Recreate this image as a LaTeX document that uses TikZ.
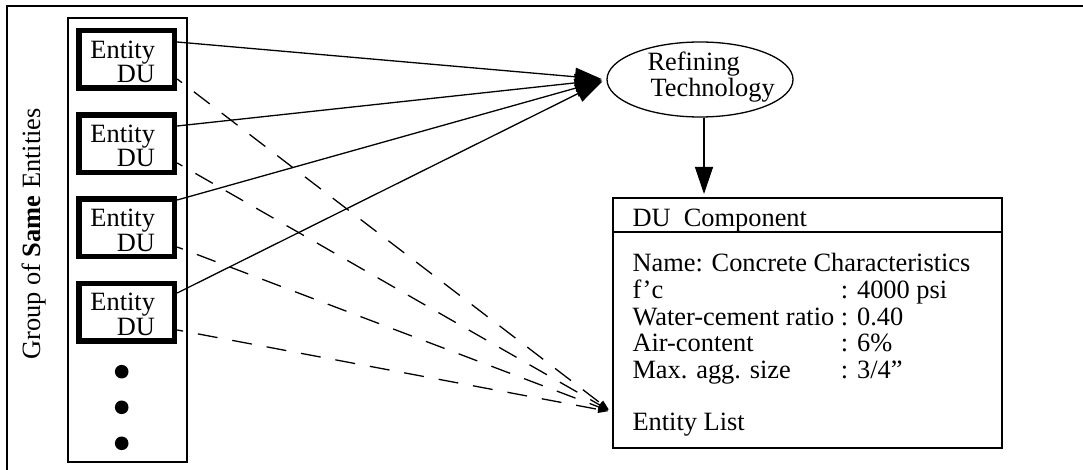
\documentclass[tikz,border=0pt]{standalone}
\usepackage{fontspec}
\setmainfont{Liberation Serif}
\usetikzlibrary{arrows.meta,shapes.geometric}

\begin{document}
\begin{tikzpicture}[x=0.5pt,y=-0.5pt,
  txt/.style={font=\fontsize{13.2}{13.25}\selectfont, inner sep=0pt, outer sep=0pt},
  entxt/.style={font=\fontsize{13.2}{11.7}\selectfont, inner sep=0pt, outer sep=0pt},
  reftxt/.style={font=\fontsize{13.2}{12.2}\selectfont, inner sep=0pt, outer sep=0pt},
  frameline/.style={line width=1pt},
  groupbox/.style={draw, line width=0.65pt, minimum width=59.5pt, minimum height=222pt, inner sep=0pt},
  entbox/.style={draw, line width=2.75pt, minimum width=47.75pt, minimum height=28.75pt, inner sep=0pt},
  dotmark/.style={circle, fill, inner sep=0pt, minimum size=6.8pt},
  techbox/.style={ellipse, draw, line width=0.65pt, minimum width=93pt, minimum height=37.5pt, inner sep=0pt},
  compbox/.style={draw, line width=1pt, minimum width=194.5pt, minimum height=125pt, inner sep=0pt},
  solidarrow/.style={line width=0.65pt, -{Triangle[length=13.5pt,width=9pt]}},
  dasharrow/.style={line width=0.65pt, dash pattern=on 10pt off 7.5pt, dash phase=7pt,
    -{Triangle[length=5pt,width=3.5pt]}, shorten >=2pt},
]
\useasboundingbox (0,0) rectangle (1083,470);

% outer frame (top and left edges)
\draw[frameline] (7,470) -- (7,6) -- (1083,6);

% group of entities
\node[groupbox] (grp) at (127.5,240) {};
\node[txt, rotate=90, anchor=base] (grplabel) at (40,234) {Group of \textbf{Same} Entities};

\foreach \i/\y in {1/59.5,2/143.7,3/227.9,4/312.1}{
  \node[entbox] (b\i) at (126.7,\y) {};
  \node[entxt, anchor=base east] (t\i) at ([xshift=14.15pt,yshift=0.6pt]b\i.center)
    {\begin{tabular}[t]{@{}r@{}}Entity\\DU\end{tabular}};
}

\node[dotmark] (dot1) at (121.7,371.7) {};
\node[dotmark] (dot2) at (121.7,407.3) {};
\node[dotmark] (dot3) at (121.7,443.3) {};

% refining technology
\node[techbox] (ref) at (700,79.5) {};
\node[reftxt, anchor=base west] (reflabel) at (647.5,70.7)
  {\begin{tabular}[t]{@{}l@{}}Refining\\\hspace{1.5pt}Technology\end{tabular}};

% DU component
\node[compbox] (du) at (807.5,323) {};
\draw[frameline] ([yshift=-17.5pt]du.north west) -- ([yshift=-17.5pt]du.north east);
\node[txt, anchor=base west] (duhead) at (632.5,226.7) {DU\ \ Component};
\node[txt, anchor=base west] (duattr) at (632.5,272)
  {\begin{tabular}[t]{@{}l@{\ }l@{}}
   \multicolumn{2}{@{}l@{}}{Name: Concrete Characteristics}\\
   f’c & : 4000 psi\\
   Water-cement ratio & : 0.40\\
   Air-content & : 6\%\\
   Max. agg. size & : 3/4”
   \end{tabular}};
\node[txt, anchor=base west] (dulist) at (632.5,430.5) {Entity List};

% connectors
\foreach \i/\s in {1/8.75,2/8.85,3/13.95,4/9.55}
  \draw[solidarrow, shorten >=2.2pt] ([yshift=\s pt]b\i.east) -- (ref.west);

\coordinate (dtip) at ([yshift=-44.5pt]du.west);
\foreach \i/\s in {1/9.75,2/9.65,3/9.55,4/8.95}
  \draw[dasharrow] ([yshift=-\s pt]b\i.east) -- (dtip);

\coordinate (vtop) at ([xshift=2pt]ref.south);
\coordinate (vbot) at (vtop |- du.north);
\draw[solidarrow, shorten >=1.5pt] (vtop) -- (vbot);
\end{tikzpicture}
\end{document}
